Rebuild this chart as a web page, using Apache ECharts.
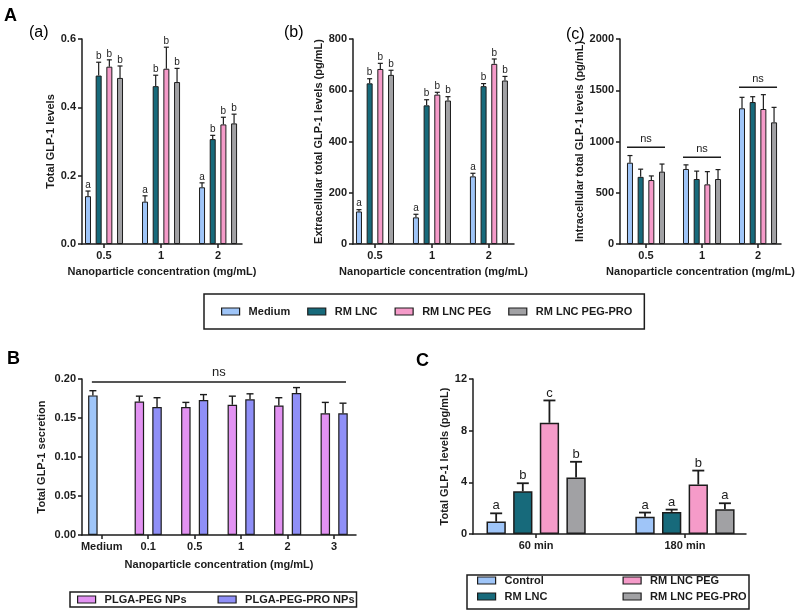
<!DOCTYPE html>
<html><head><meta charset="utf-8">
<script src="https://cdn.jsdelivr.net/npm/echarts@6/dist/echarts.min.js"></script>
<style>html,body{margin:0;padding:0;background:#fff}#chart{width:800px;height:616px}</style>
</head><body><div id="chart"></div>
<script>
const FONT = "'Liberation Sans', Arial, Helvetica, sans-serif";
const INK = '#1c1c1c';
const COL = {blue:'#9fc5f8', teal:'#176a7b', pink:'#f59bc9', gray:'#a1a1a4', violet:'#e292f2', peri:'#8f8ff7'};

// ---------- Panel A (a): Total GLP-1 levels
const aaCategories = ['0.5', '1', '2'];
const aaNames = ['Medium', 'RM LNC', 'RM LNC PEG', 'RM LNC PEG-PRO'];
const aaMedium = [0.140, 0.124, 0.166];
const aaLNC    = [0.493, 0.462, 0.307];
const aaPEG    = [0.519, 0.513, 0.350];
const aaPRO    = [0.486, 0.474, 0.353];
const aaMediumErr = [0.015, 0.017, 0.013];
const aaLNCErr    = [0.039, 0.032, 0.011];
const aaPEGErr    = [0.020, 0.063, 0.021];
const aaPROErr    = [0.035, 0.040, 0.027];
const aaLetters = [['a','a','a'], ['b','b','b'], ['b','b','b'], ['b','b','b']];

// ---------- Panel A (b): Extracellular total GLP-1 (pg/mL)
const abMedium = [127, 104, 264];
const abLNC    = [627, 541, 616];
const abPEG    = [683, 583, 703];
const abPRO    = [660, 560, 638];
const abMediumErr = [7, 12, 12];
const abLNCErr    = [18, 22, 10];
const abPEGErr    = [22, 9, 19];
const abPROErr    = [18, 15, 16];
const abLetters = [['a','a','a'], ['b','b','b'], ['b','b','b'], ['b','b','b']];

// ---------- Panel A (c): Intracellular total GLP-1 (pg/mL)
const acMedium = [793, 732, 1324];
const acLNC    = [655, 634, 1385];
const acPEG    = [624, 582, 1317];
const acPRO    = [706, 634, 1187];
const acMediumErr = [70, 40, 107];
const acLNCErr    = [75, 77, 52];
const acPEGErr    = [40, 124, 140];
const acPROErr    = [74, 92, 146];
const acNsLevels  = [943, 846, 1529];

// ---------- Panel B: Total GLP-1 secretion
const pBCategories = ['Medium', '0.1', '0.5', '1', '2', '3'];
const pBNames = ['PLGA-PEG NPs', 'PLGA-PEG-PRO NPs'];
const pBPEG    = [0.179, 0.171, 0.164, 0.167, 0.166, 0.156];   // index 0 = Medium
const pBPRO    = [null, 0.164, 0.173, 0.174, 0.182, 0.156];
const pBPEGErr = [0.006, 0.007, 0.006, 0.011, 0.010, 0.014];
const pBPROErr = [null, 0.012, 0.007, 0.007, 0.007, 0.013];
const pBNsLevel = 0.196;

// ---------- Panel C: Total GLP-1 levels (pg/mL) over time
const pCCategories = ['60 min', '180 min'];
const pCNames = ['Control', 'RM LNC', 'RM LNC PEG', 'RM LNC PEG-PRO'];
const pCControl = [0.96, 1.34];
const pCLNC     = [3.31, 1.71];
const pCPEG     = [8.61, 3.83];
const pCPRO     = [4.37, 1.91];
const pCControlErr = [0.64, 0.32];
const pCLNCErr     = [0.62, 0.18];
const pCPEGErr     = [1.73, 1.08];
const pCPROErr     = [1.22, 0.47];
const pCLetters = [['a','a'], ['b','a'], ['c','b'], ['b','a']];

const option = {animation:false, backgroundColor:'#fff', grid:[], xAxis:[], yAxis:[], series:[], legend:[], graphic:[]};
const boldText = {color:INK, fontFamily:FONT, fontWeight:'bold', fontSize:11};

function addPanel(o) {
  const i = option.grid.length;
  option.grid.push(Object.assign({containLabel:false, outerBoundsMode:'none'}, o.grid));
  const ticks = o.cats.map((_, k) => k);
  option.xAxis.push({
    type:'value', gridIndex:i, min:o.xMin, max:o.xMax,
    axisLine:{show:true, onZero:false, lineStyle:{color:INK, width:o.axisW}},
    axisTick:{show:true, customValues:ticks, length:4, lineStyle:{color:INK, width:o.axisW}},
    axisLabel:{show:true, customValues:ticks, formatter:v => o.cats[Math.round(v)] || '', margin:6, ...boldText},
    splitLine:{show:false},
    name:o.xName || '', nameLocation:'middle', nameGap:o.xNameGap || 22, nameTextStyle:boldText
  });
  option.yAxis.push({
    type:'value', gridIndex:i, min:0, max:o.yMax, interval:o.yInterval,
    axisLine:{show:true, onZero:false, lineStyle:{color:INK, width:o.axisW}},
    axisTick:{show:true, length:4, lineStyle:{color:INK, width:o.axisW}},
    axisLabel:{formatter:o.yFmt, margin:6, ...boldText},
    splitLine:{show:false},
    name:o.yName, nameLocation:'middle', nameGap:o.yNameGap, nameRotate:90, nameTextStyle:boldText
  });
  const n = o.values.length;
  const step = o.barWidth * (1 + o.barGap);
  o.values.forEach((vals, s) => {
    const data = [];
    vals.forEach((v, k) => {
      if (v == null) return;
      const c = o.itemColors && o.itemColors[s] && o.itemColors[s][k];
      data.push(c ? {value:[k, v], itemStyle:{color:c}} : [k, v]);
    });
    option.series.push({
      type:'bar', name:o.names[s], xAxisIndex:i, yAxisIndex:i,
      barWidth:o.barWidth, barGap:(o.barGap * 100) + '%', data,
      itemStyle:{color:o.colors[s], borderColor:INK, borderWidth:o.borderW},
      silent:true, z:2
    });
  });
  const rows = [], labels = [];
  o.values.forEach((vals, s) => vals.forEach((v, k) => {
    if (v == null) return;
    rows.push([k, s, v, o.errors[s][k]]);
    labels.push(o.letters ? o.letters[s][k] : '');
  }));
  option.series.push({
    type:'custom', xAxisIndex:i, yAxisIndex:i, silent:true, z:5, clip:false,
    encode:{x:0, y:2}, data:rows,
    renderItem:(params, api) => {
      const k = api.value(0), s = api.value(1), v = api.value(2), e = api.value(3);
      const base = api.coord([k, v]), top = api.coord([k, v + e]);
      const cx = base[0] + (s - (n - 1) / 2) * step;
      const st = {stroke:INK, lineWidth:o.errW};
      const ch = [
        {type:'line', shape:{x1:cx, y1:base[1], x2:cx, y2:top[1]}, style:st},
        {type:'line', shape:{x1:cx - o.cap / 2, y1:top[1], x2:cx + o.cap / 2, y2:top[1]}, style:st}
      ];
      const t = labels[params.dataIndex];
      if (t) ch.push({type:'text', x:cx, y:top[1] - 1, style:{text:t, fill:INK, fontFamily:FONT, fontSize:o.letterSize, align:'center', verticalAlign:'bottom'}});
      return {type:'group', children:ch};
    }
  });
  o.step = step; o.n = n;
  return i;
}

// ns bars over each group (panel A c)
function addGroupNs(i, levels, halfSpan, fontSize) {
  option.series.push({
    type:'custom', xAxisIndex:i, yAxisIndex:i, silent:true, z:6, clip:false,
    encode:{x:0, y:1}, data:levels.map((l, k) => [k, l]),
    renderItem:(params, api) => {
      const p = api.coord([api.value(0), api.value(1)]);
      return {type:'group', children:[
        {type:'line', shape:{x1:p[0] - halfSpan, y1:p[1], x2:p[0] + halfSpan, y2:p[1]}, style:{stroke:INK, lineWidth:1.5}},
        {type:'text', x:p[0], y:p[1] - 3, style:{text:'ns', fill:INK, fontFamily:FONT, fontSize, align:'center', verticalAlign:'bottom'}}
      ]};
    }
  });
}

// ----- build panels
const pa = {grid:{left:82, top:39, width:160, height:205}, xMin:-0.386, xMax:2.42, cats:aaCategories, names:aaNames,
  colors:[COL.blue, COL.teal, COL.pink, COL.gray], values:[aaMedium, aaLNC, aaPEG, aaPRO],
  errors:[aaMediumErr, aaLNCErr, aaPEGErr, aaPROErr], letters:aaLetters,
  yMax:0.6, yInterval:0.2, yFmt:v => v.toFixed(1), yName:'Total GLP-1 levels', yNameGap:26,
  xName:'Nanoparticle concentration (mg/mL)', xNameGap:22,
  barWidth:6, barGap:0.78, borderW:1, errW:1.2, cap:5, letterSize:10, axisW:1.5};
addPanel(pa);

const pb = Object.assign({}, pa, {grid:{left:353, top:39, width:161, height:205}, xMin:-0.386, xMax:2.44,
  values:[abMedium, abLNC, abPEG, abPRO], errors:[abMediumErr, abLNCErr, abPEGErr, abPROErr], letters:abLetters,
  yMax:800, yInterval:200, yFmt:v => String(v), yName:'Extracellular total GLP-1 levels (pg/mL)', yNameGap:26});
addPanel(pb);

const pc = Object.assign({}, pa, {grid:{left:620, top:39, width:161, height:205}, xMin:-0.464, xMax:2.41,
  values:[acMedium, acLNC, acPEG, acPRO], errors:[acMediumErr, acLNCErr, acPEGErr, acPROErr], letters:null,
  yMax:2000, yInterval:500, yFmt:v => String(v), yName:'Intracellular total GLP-1 levels (pg/mL)', yNameGap:25});
const ic = addPanel(pc);
addGroupNs(ic, acNsLevels, 19, 11);

const pB = {grid:{left:82, top:379, width:274, height:156}, xMin:-0.424, xMax:5.47, cats:pBCategories, names:pBNames,
  colors:[COL.violet, COL.peri], itemColors:[[COL.blue]], values:[pBPEG, pBPRO], errors:[pBPEGErr, pBPROErr], letters:null,
  yMax:0.2, yInterval:0.05, yFmt:v => v.toFixed(2), yName:'Total GLP-1 secretion', yNameGap:35,
  xName:'Nanoparticle concentration (mg/mL)', xNameGap:24,
  barWidth:9.5, barGap:0.86, borderW:1.2, errW:1.4, cap:7, letterSize:10, axisW:1.5};
const iB = addPanel(pB);
option.series.push({
  type:'custom', xAxisIndex:iB, yAxisIndex:iB, silent:true, z:6, clip:false,
  encode:{x:0, y:2}, data:[[0, pBCategories.length - 1, pBNsLevel]],
  renderItem:(params, api) => {
    const p0 = api.coord([api.value(0), api.value(2)]);
    const p1 = api.coord([api.value(1), api.value(2)]);
    const x1 = p0[0] - pB.step / 2 - 1, x2 = p1[0] + pB.step / 2 + 3;
    return {type:'group', children:[
      {type:'line', shape:{x1, y1:p0[1], x2, y2:p0[1]}, style:{stroke:INK, lineWidth:1.5}},
      {type:'text', x:(x1 + x2) / 2, y:p0[1] - 3, style:{text:'ns', fill:INK, fontFamily:FONT, fontSize:13, align:'center', verticalAlign:'bottom'}}
    ]};
  }
});

const pC = {grid:{left:473, top:379, width:273, height:155}, xMin:-0.424, xMax:1.41, cats:pCCategories, names:pCNames,
  colors:[COL.blue, COL.teal, COL.pink, COL.gray], values:[pCControl, pCLNC, pCPEG, pCPRO],
  errors:[pCControlErr, pCLNCErr, pCPEGErr, pCPROErr], letters:pCLetters,
  yMax:12, yInterval:4, yFmt:v => String(v), yName:'Total GLP-1 levels (pg/mL)', yNameGap:22,
  xName:'', barWidth:19.3, barGap:0.38, borderW:1.5, errW:1.8, cap:12, letterSize:13, axisW:1.5};
addPanel(pC);

// ----- legends
const legendBase = {icon:'rect', itemWidth:18, itemHeight:7, selectedMode:false,
  itemStyle:{borderColor:INK, borderWidth:1.2}, textStyle:{...boldText, padding:[0, 0, 0, 4]}};
option.legend.push(Object.assign({}, legendBase, {data:aaNames, left:204, top:294, itemGap:17,
  padding:[12, 12, 12, 17], borderColor:INK, borderWidth:1.5}));
option.legend.push(Object.assign({}, legendBase, {data:pBNames, left:70, top:592, itemGap:31,
  padding:[2, 2, 2, 7], borderColor:INK, borderWidth:1.5}));
option.legend.push(Object.assign({}, legendBase, {data:[pCNames[0], pCNames[1]], left:477, top:575, orient:'vertical', itemGap:5, padding:0}));
option.legend.push(Object.assign({}, legendBase, {data:[pCNames[2], pCNames[3]], left:622.5, top:575, orient:'vertical', itemGap:5, padding:0}));

// ----- panel letters & C legend frame
const lab = (t, x, y, size, weight) => ({type:'text', x, y, style:{text:t, fill:'#000', fontFamily:FONT, fontSize:size, fontWeight:weight, align:'left', verticalAlign:'top'}});
option.graphic = [
  lab('A', 4, 7, 18, 'bold'),
  lab('(a)', 29, 25, 16, 'normal'),
  lab('(b)', 284, 25, 16, 'normal'),
  lab('(c)', 566, 27, 16, 'normal'),
  lab('B', 7, 350, 18, 'bold'),
  lab('C', 416, 352, 18, 'bold'),
  {type:'rect', shape:{x:467, y:575, width:282, height:34}, style:{fill:'none', stroke:INK, lineWidth:1.5}}
];

const chart = echarts.init(document.getElementById('chart'), null, {renderer:'canvas'});
chart.setOption(option);
</script></body></html>
